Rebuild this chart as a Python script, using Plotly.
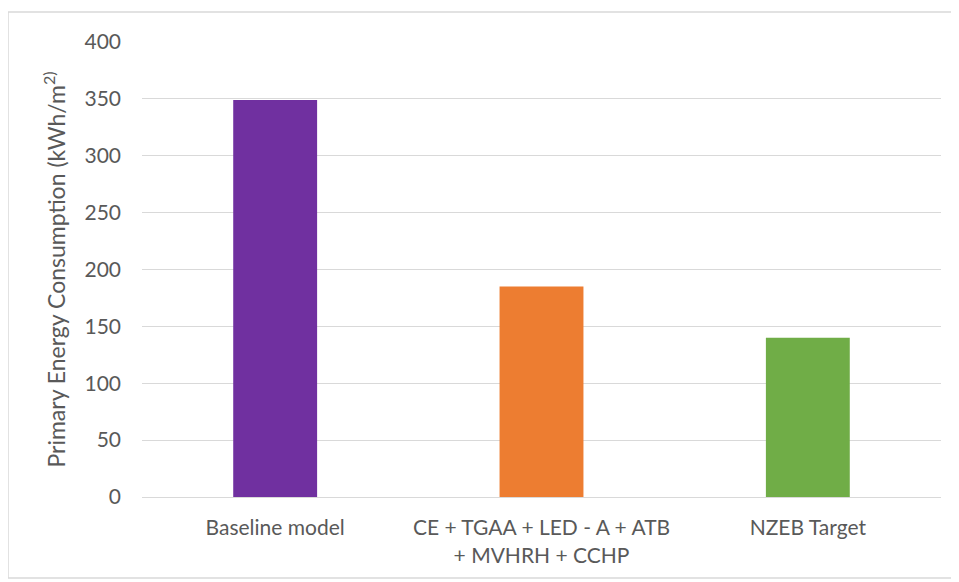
import plotly.graph_objects as go

categories = ["Baseline model", "CE + TGAA + LED - A + ATB<br>+ MVHRH + CCHP", "NZEB Target"]
values = [349, 185, 140]
colors = ["#7030A0", "#ED7D31", "#70AD47"]
y_ticks = [0, 50, 100, 150, 200, 250, 300, 350, 400]

# page body has an 8px offset; size figure accordingly
W, H = 951, 574
ml, mr, mt, mb = 134, 18, 34, 85
pw, ph = W - ml - mr, H - mt - mb

fig = go.Figure(go.Bar(x=categories, y=values, marker=dict(color=colors, line=dict(width=0)), width=0.315))

fig.update_layout(
    width=W, height=H,
    margin=dict(l=ml, r=mr, t=mt, b=mb),
    paper_bgcolor="white", plot_bgcolor="white",
    font=dict(family="Lato, Open Sans, sans-serif", color="#595959"),
    showlegend=False,
    xaxis=dict(showgrid=False, showline=True, linecolor="#D9D9D9", linewidth=1,
               tickfont=dict(size=21, color="#595959"), ticks="", ticklabelstandoff=12),
    yaxis=dict(range=[0, 400], tickvals=y_ticks, showgrid=True, gridcolor="#D9D9D9", gridwidth=1,
               zeroline=False, showline=False, tickfont=dict(size=21, color="#595959"),
               ticks="", ticklabelstandoff=20,
               title=dict(text="Primary Energy Consumption (kWh/m<sup>2)</sup>",
                          font=dict(size=23, color="#595959"), standoff=12)),
)

# chart border
x0 = (0 - ml) / pw
x1 = (947 - ml) / pw
y0 = (H - 570 - mb) / ph
y1 = (H - 4 - mb) / ph
fig.add_shape(type="rect", xref="paper", yref="paper", x0=x0, x1=x1, y0=y0, y1=y1,
              line=dict(color="#D9D9D9", width=1.5), fillcolor="rgba(0,0,0,0)", layer="below")

fig.write_html("out.html")
